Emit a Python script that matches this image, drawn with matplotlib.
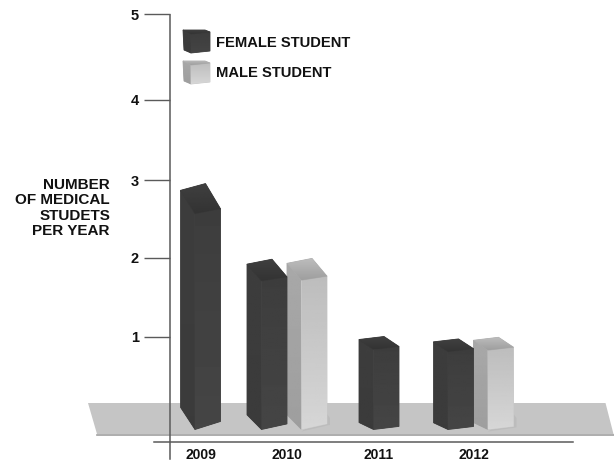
import numpy as np
import matplotlib
matplotlib.use("Agg")
import matplotlib.pyplot as plt
from matplotlib.patches import Polygon

plt.rcParams['font.family'] = ['Liberation Sans', 'DejaVu Sans']

years = ['2009', '2010', '2011', '2012']
female = [2.9, 1.96, 1.0, 0.97]
male = [None, 1.97, None, 0.99]
ytick_labels = ['1', '2', '3', '4', '5']
ylabel_text = 'NUMBER\nOF MEDICAL\nSTUDETS\nPER YEAR'
series_names = ['FEMALE STUDENT', 'MALE STUDENT']

W, H = 614, 463
PX = 80.5          # pixels per unit
Y0 = 417           # pixel row of value 0
centers = [200.5, 287, 379, 473.5]
ytick_pos = [1, 1.98, 2.94, 3.94, 5]   # ticks in the source are not evenly spaced
BW = 40

fig = plt.figure(figsize=(W/100, H/100), dpi=100)
ax = fig.add_axes([0, 0, 1, 1])
ax.patch.set_alpha(0)

def py(row):
    return (Y0-row)/PX

def gradient_face(pts, c_top, c_bot, z=3):
    mean = str((c_top+c_bot)/2)
    ax.add_patch(Polygon(pts, closed=True, fc=mean, ec=mean, lw=0.6, zorder=z))
    poly = Polygon(pts, closed=True, transform=ax.transData, fc='none', ec='none', zorder=z)
    ax.add_patch(poly)
    ys = [p[1] for p in pts]; xs = [p[0] for p in pts]
    grad = np.linspace(c_top, c_bot, 64).reshape(-1, 1)
    im = ax.imshow(grad, extent=[min(xs), max(xs), min(ys), max(ys)], origin='upper',
                   cmap='gray', vmin=0, vmax=1, aspect='auto', zorder=z+0.1, interpolation='bilinear')
    im.set_clip_path(poly)

def bar3d(xl, v, style):
    back = py(Y0 - v*PX)
    d = 1/PX
    xr = xl + BW
    xf = xl + 14.5
    xb = xl + 25
    tl = (xl, back-(1+2*v)*d); tb = (xb, back)
    tr = (xr, back-(2+8*v)*d); tf = (xf, back-(4+9*v)*d)
    bf = (xf, py(429.5))
    bl = (xl, py(429.5-(8*v-1)))
    br = (xr, py(429.5-(0.5+2.6*v)))
    if style.get('shadow'):
        ax.add_patch(Polygon([(xf, py(431.5)), (xr+3, py(429.5-(0.5+2.6*v)+1)), (xr+3, py(418)), (xr, py(414))],
                             fc='#a9a9a9', ec='none', alpha=.3, zorder=2))
    gradient_face([tl, tf, bf, bl], *style['left'])
    gradient_face([tf, tr, br, bf], *style['right'], z=3.2)
    gradient_face([tl, tb, tr, tf], *style['top'], z=3.4)

F = dict(left=(.24, .23), right=(.24, .27), top=(.25, .20))
M = dict(left=(.66, .62), right=(.74, .84), top=(.74, .62), shadow=True)

# floor
ax.add_patch(Polygon([(88, py(403)), (605.5, py(403)), (613.5, py(434)), (97, py(434))],
                     fc='#c5c5c5', ec='none', zorder=1))
ax.plot([97, 613.5], [py(434.5)]*2, color='#a0a0a0', lw=1.2, zorder=1)

# bars
for c, f, m in zip(centers, female, male):
    if m is None:
        bar3d(c-BW/2, f, F)
    else:
        bar3d(c-BW, f, F)
        bar3d(c, m, M)

# axes
for s in ['top', 'right']:
    ax.spines[s].set_visible(False)
ax.spines['left'].set_position(('data', 169.5))
ax.spines['left'].set_bounds(py(459), py(15))
ax.spines['left'].set_color('#5a5a5a')
ax.spines['left'].set_linewidth(1.1)
ax.spines['bottom'].set_position(('data', py(442)))
ax.spines['bottom'].set_bounds(154, 573)
ax.spines['bottom'].set_color('#5a5a5a')
ax.spines['bottom'].set_linewidth(1.1)
ax.set_yticks(ytick_pos)
ax.set_yticklabels(ytick_labels, fontsize=10.5, fontweight='bold', color='#111111')
ax.tick_params(axis='y', length=18.4, width=1, color='#5a5a5a', pad=3.5)
ax.set_xticks(centers)
ax.set_xticklabels(years, fontsize=10, fontweight='bold', color='#111111')
ax.tick_params(axis='x', length=0, pad=4.5)

ax.text(110, py(208), ylabel_text, ha='right', va='center', fontsize=11, fontweight='bold',
        linespacing=1.15, color='#111111')

# legend
def swatch(x0, row, st):
    h = 22
    gradient_face([(x0, py(row)), (x0+8, py(row+4)), (x0+8, py(row+h+1)), (x0+1, py(row+h-2))], *st['left'], z=4)
    gradient_face([(x0+8, py(row+4)), (x0+27, py(row+2)), (x0+27, py(row+h-1)), (x0+8, py(row+h+1))], *st['right'], z=4.2)
    gradient_face([(x0, py(row)), (x0+22, py(row)), (x0+27, py(row+2)), (x0+8, py(row+4))], *st['top'], z=4.4)

swatch(183, 30, F)
swatch(183, 61, M)
ax.text(216, py(43), series_names[0], fontsize=10.6, fontweight='bold', va='center', color='#111111')
ax.text(216, py(73), series_names[1], fontsize=10.6, fontweight='bold', va='center', color='#111111')

ax.set_xlim(0, W)
ax.set_ylim((Y0-H)/PX, Y0/PX)
fig.savefig('out.png', dpi=100, facecolor='white')
